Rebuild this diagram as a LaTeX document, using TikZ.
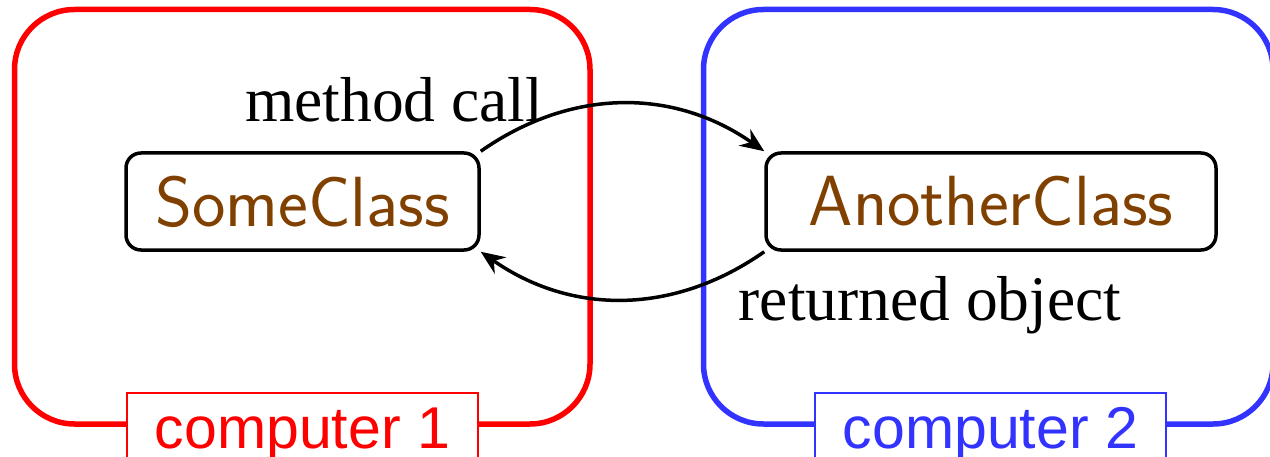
\documentclass[tikz,border=0pt]{standalone}
\usepackage{fontspec}
\setmainfont{Liberation Serif}
\newfontfamily\labelfont{Liberation Sans}
\usetikzlibrary{arrows.meta}
\definecolor{hostred}{RGB}{255,0,0}
\definecolor{hostblue}{RGB}{51,51,255}
\definecolor{classbrown}{RGB}{128,64,0}
\tikzset{
  host/.style={line width=5.5pt, rounded corners=60pt},
  classbox/.style={draw=black, line width=3.5pt, rounded corners=15pt, fill=white,
    minimum height=97pt, text=classbrown,
    font=\sffamily\fontsize{71}{76}\selectfont},
  hostlabel/.style={line width=1.2pt, fill=white, anchor=base, minimum width=351pt,
    text height=41pt, text depth=12pt, inner ysep=14pt,
    font=\labelfont\fontsize{59}{64}\selectfont},
  msg/.style={font=\fontsize{63.5}{68}\selectfont, anchor=base, inner sep=0pt},
  call/.style={line width=3.5pt, -{Stealth[length=24pt, width=20pt, inset=8pt]}},
}
\begin{document}
\begin{tikzpicture}[x=1pt, y=1pt]
  \useasboundingbox (0,0) rectangle (1270,456);
  \clip (0,0) rectangle (1270,456);

  % the two hosts
  \draw[host, draw=hostred]  (14.5,32) rectangle (590,446.5);
  \draw[host, draw=hostblue] (703.5,32) rectangle (1273,446.5);

  % host captions sitting on the bottom edges
  \node[hostlabel, draw=hostred, text=hostred]   (cap1) at (302.5,8) {computer 1};
  \node[hostlabel, draw=hostblue, text=hostblue] (cap2) at (990.5,8) {computer 2};

  % the two objects
  \node[classbox, minimum width=353pt] (some)    at (302.5,254.5) {SomeClass};
  \node[classbox, minimum width=450pt] (another) at (991,254.5)   {AnotherClass};

  % remote call and its result
  \draw[call] (some.north east) to[bend left=35] (another.north west);
  \draw[call] (another.south west) to[bend left=35] (some.south east);

  \node[msg] (calltext) at (394,334) {method call};
  \node[msg] (rettext)  at (930,136) {returned object};
\end{tikzpicture}
\end{document}
